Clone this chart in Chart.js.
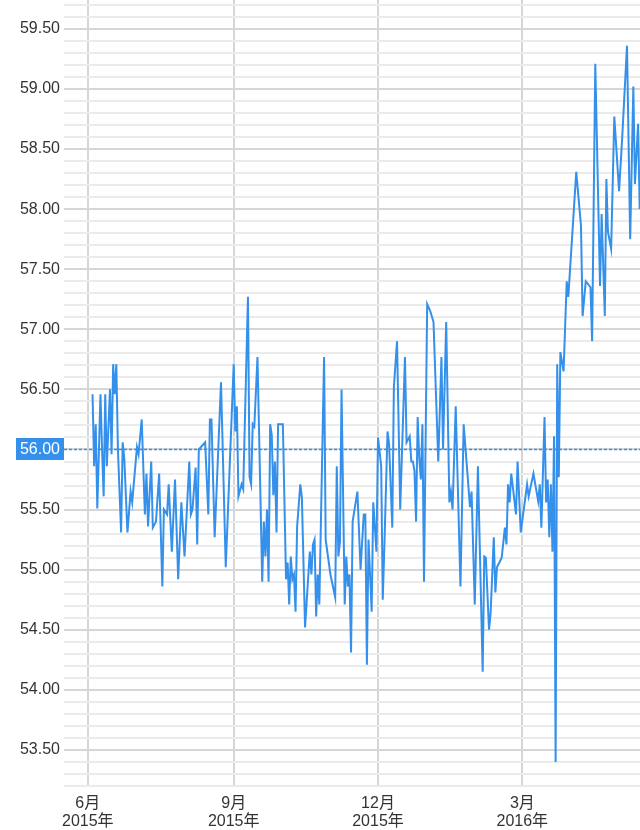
<!DOCTYPE html>
<html>
<head>
<meta charset="utf-8">
<script src="https://cdn.jsdelivr.net/npm/chart.js@4.4.1/dist/chart.umd.min.js"></script>
<style>
  html, body { margin: 0; padding: 0; background: #fff; }
  #wrap { width: 640px; height: 830px; }
</style>
</head>
<body>
<div id="wrap"><canvas id="priceChart"></canvas></div>
<script>
// --- DATA ---
const dates = [
  '2015-06-04','2015-06-05','2015-06-06','2015-06-07','2015-06-09','2015-06-10','2015-06-11','2015-06-12','2015-06-13','2015-06-15',
  '2015-06-16','2015-06-17','2015-06-18','2015-06-19','2015-06-20','2015-06-22','2015-06-23','2015-06-24','2015-06-26','2015-06-28',
  '2015-06-29','2015-07-02','2015-07-03','2015-07-05','2015-07-07','2015-07-08','2015-07-09','2015-07-11','2015-07-12','2015-07-14',
  '2015-07-16','2015-07-18','2015-07-19','2015-07-21','2015-07-22','2015-07-24','2015-07-26','2015-07-28','2015-07-30','2015-08-01',
  '2015-08-04','2015-08-05','2015-08-06','2015-08-08','2015-08-09','2015-08-10','2015-08-14','2015-08-16','2015-08-17','2015-08-18',
  '2015-08-20','2015-08-24','2015-08-27','2015-09-01','2015-09-02','2015-09-03','2015-09-04','2015-09-06','2015-09-07','2015-09-10',
  '2015-09-11','2015-09-12','2015-09-13','2015-09-14','2015-09-16','2015-09-19','2015-09-20','2015-09-21','2015-09-22','2015-09-23',
  '2015-09-24','2015-09-25','2015-09-26','2015-09-27','2015-09-28','2015-09-29','2015-10-02','2015-10-04','2015-10-05','2015-10-06',
  '2015-10-07','2015-10-08','2015-10-09','2015-10-10','2015-10-11','2015-10-13','2015-10-14','2015-10-16','2015-10-19','2015-10-20',
  '2015-10-21','2015-10-22','2015-10-23','2015-10-24','2015-10-25','2015-10-28','2015-10-29','2015-11-01','2015-11-04','2015-11-05',
  '2015-11-06','2015-11-07','2015-11-08','2015-11-10','2015-11-11','2015-11-12','2015-11-13','2015-11-14','2015-11-15','2015-11-18',
  '2015-11-20','2015-11-22','2015-11-23','2015-11-24','2015-11-25','2015-11-27','2015-11-28','2015-11-30','2015-12-01','2015-12-03',
  '2015-12-04','2015-12-05','2015-12-07','2015-12-08','2015-12-10','2015-12-11','2015-12-13','2015-12-15','2015-12-18','2015-12-19',
  '2015-12-21','2015-12-22','2015-12-23','2015-12-24','2015-12-25','2015-12-26','2015-12-27','2015-12-28','2015-12-29','2015-12-30',
  '2016-01-01','2016-01-03','2016-01-05','2016-01-08','2016-01-10','2016-01-11','2016-01-13','2016-01-15','2016-01-16','2016-01-17',
  '2016-01-19','2016-01-22','2016-01-24','2016-01-28','2016-01-29','2016-01-31','2016-02-02','2016-02-05','2016-02-06','2016-02-07',
  '2016-02-09','2016-02-10','2016-02-12','2016-02-13','2016-02-14','2016-02-17','2016-02-19','2016-02-20','2016-02-21','2016-02-22',
  '2016-02-23','2016-02-24','2016-02-26','2016-02-27','2016-02-29','2016-03-04','2016-03-05','2016-03-08','2016-03-11','2016-03-12',
  '2016-03-13','2016-03-15','2016-03-16','2016-03-17','2016-03-18','2016-03-19','2016-03-20','2016-03-21','2016-03-22','2016-03-23',
  '2016-03-24','2016-03-25','2016-03-27','2016-03-29','2016-03-30','2016-04-04','2016-04-07','2016-04-08','2016-04-10','2016-04-13',
  '2016-04-14','2016-04-16','2016-04-19','2016-04-20','2016-04-22','2016-04-23','2016-04-24','2016-04-26','2016-04-28','2016-05-01',
  '2016-05-03','2016-05-06','2016-05-08','2016-05-10','2016-05-11','2016-05-13','2016-05-14'
];
const prices = [
  56.46,55.86,56.21,55.51,56.46,56.00,55.61,56.46,55.86,56.50,
  55.96,56.71,56.46,56.71,56.00,55.31,56.06,55.93,55.31,55.65,
  55.56,56.02,55.96,56.25,55.46,55.80,55.36,55.90,55.35,55.40,
  55.80,54.86,55.50,55.46,55.71,55.15,55.75,54.92,55.56,55.11,
  55.90,55.46,55.50,55.85,55.21,56.00,56.06,55.46,56.25,56.25,
  55.27,56.56,55.02,56.71,56.15,56.36,55.61,55.71,55.67,57.27,
  55.77,55.71,56.21,56.19,56.77,54.90,55.40,55.11,55.50,54.90,
  56.21,56.12,55.62,55.90,55.31,56.21,56.21,54.92,55.06,54.71,
  55.11,54.92,54.96,54.65,55.36,55.71,55.60,54.52,55.15,54.96,
  55.21,55.25,54.61,54.96,54.71,56.77,55.25,54.96,54.77,55.86,
  55.11,55.23,56.50,54.71,55.11,54.86,54.96,54.31,55.40,55.65,
  55.00,55.46,55.46,54.21,55.25,54.65,55.56,55.15,56.10,55.86,
  54.75,55.19,56.15,56.04,55.35,56.52,56.90,55.50,56.77,56.06,
  56.11,55.90,55.90,55.82,55.40,56.27,55.93,55.75,56.21,54.90,
  57.21,57.15,57.06,55.90,56.77,56.00,57.06,55.56,55.65,55.50,
  56.36,54.86,56.21,55.52,55.65,54.71,55.86,54.15,55.11,55.10,
  54.50,54.64,55.27,54.81,55.02,55.10,55.35,55.21,55.71,55.56,
  55.80,55.69,55.46,55.90,55.31,55.71,55.61,55.80,55.57,55.71,
  55.35,56.27,55.56,55.75,55.27,55.71,55.15,56.11,53.40,56.71,
  55.77,56.81,56.65,57.40,57.27,58.31,57.86,57.11,57.40,57.35,
  56.90,59.21,57.36,57.96,57.11,58.25,57.81,57.67,58.77,58.15,
  58.60,59.36,57.75,59.02,58.21,58.71,58.00
];
const monthTicks = ['2015-06-01', '2015-09-01', '2015-12-01', '2016-03-01'];
const xRange = ['2015-05-17', '2016-05-14'];
const yMin = 53.2;
const yMax = 59.74;
const refValue = 56.00;

const lineColor = '#3490ea';

function dayNum(s) {
    const p = s.split('-');
    return Date.UTC(+p[0], +p[1] - 1, +p[2]) / 86400000;
}
function isMajor(v) {
    return Math.abs(v * 2 - Math.round(v * 2)) < 1e-6;
}

const points = dates.map((d, i) => ({ x: dayNum(d), y: prices[i] }));
const fontFamily = '"Liberation Sans", "Noto Sans CJK JP", sans-serif';

// dashed reference line + value box
const refMarker = {
    id: 'refMarker',
    beforeDatasetsDraw(chart) {
        const { ctx, chartArea, scales } = chart;
        const py = Math.round(scales.y.getPixelForValue(refValue)) + 0.5;
        ctx.save();
        ctx.strokeStyle = lineColor;
        ctx.lineWidth = 1.5;
        ctx.setLineDash([3, 2]);
        ctx.beginPath();
        ctx.moveTo(chartArea.left, py);
        ctx.lineTo(chartArea.right, py);
        ctx.stroke();
        ctx.restore();
    },
    afterDraw(chart) {
        const { ctx, chartArea, scales } = chart;
        const py = Math.round(scales.y.getPixelForValue(refValue));
        ctx.save();
        ctx.fillStyle = lineColor;
        ctx.fillRect(16, py - 11, chartArea.left - 16, 22);
        ctx.fillStyle = '#fff';
        ctx.font = '16px ' + fontFamily;
        ctx.textAlign = 'right';
        ctx.textBaseline = 'middle';
        ctx.fillText(refValue.toFixed(2), chartArea.left - 4, py + 1);
        ctx.restore();
    }
};

new Chart(document.getElementById('priceChart'), {
    type: 'line',
    data: {
        datasets: [{
            data: points,
            borderColor: lineColor,
            borderWidth: 2,
            pointRadius: 0,
            tension: 0,
            fill: false
        }]
    },
    options: {
        responsive: true,
        maintainAspectRatio: false,
        animation: false,
        layout: { padding: 0 },
        plugins: { legend: { display: false }, tooltip: { enabled: false } },
        scales: {
            x: {
                type: 'linear',
                min: dayNum(xRange[0]),
                max: dayNum(xRange[1]) + 0.2,
                border: { display: false },
                grid: { color: '#d6d6d6', lineWidth: 2, drawTicks: false },
                ticks: {
                    autoSkip: false,
                    maxRotation: 0,
                    padding: 9,
                    color: '#333',
                    font: { family: fontFamily, size: 16, lineHeight: 1.12 },
                    callback: function(value) {
                        const d = new Date(value * 86400000);
                        return [(d.getUTCMonth() + 1) + '月', d.getUTCFullYear() + '年'];
                    }
                },
                afterBuildTicks: function(axis) {
                    axis.ticks = monthTicks.map(m => ({ value: dayNum(m) }));
                },
                afterFit: function(axis) {
                    axis.height = 44;
                    axis.paddingLeft = 0;
                    axis.paddingRight = 0;
                }
            },
            y: {
                min: yMin,
                max: yMax,
                border: { display: false },
                grid: {
                    drawTicks: false,
                    color: ctx => isMajor(ctx.tick.value) ? '#d6d6d6' : '#ebebeb',
                    lineWidth: 2
                },
                ticks: {
                    autoSkip: false,
                    padding: 4,
                    color: '#333',
                    font: { family: fontFamily, size: 16 },
                    callback: function(value) {
                        if (!isMajor(value) || Math.abs(value - refValue) < 1e-6) return '';
                        return value.toFixed(2);
                    }
                },
                afterBuildTicks: function(axis) {
                    const ticks = [];
                    for (let v = Math.ceil(yMin * 10); v <= Math.floor(yMax * 10); v++) {
                        ticks.push({ value: v / 10 });
                    }
                    axis.ticks = ticks;
                },
                afterFit: function(axis) {
                    axis.width = 64;
                    axis.paddingTop = 0;
                    axis.paddingBottom = 0;
                }
            }
        }
    },
    plugins: [refMarker]
});
</script>
</body>
</html>
